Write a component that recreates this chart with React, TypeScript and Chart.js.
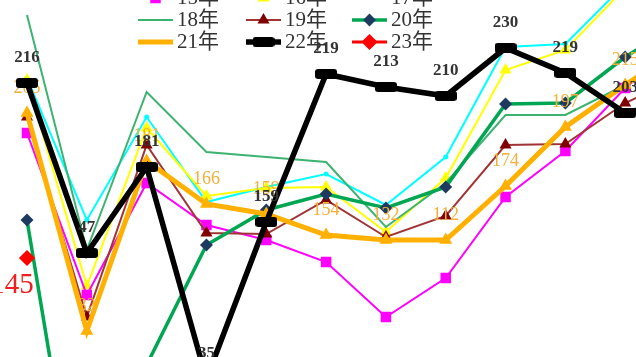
import React, { useEffect, useRef } from 'react';
import { Chart, registerables } from 'chart.js';
import { drawPoint } from 'chart.js/helpers';

Chart.register(...registerables);

// Categories (months); the 12th lies just beyond the visible right edge
const categories = ['1月', '2月', '3月', '4月', '5月', '6月', '7月', '8月', '9月', '10月', '11月', '12月'];

// Plotted index values (hidden y axis)
const s15 = [224, 62, 174, 132, 117, 95, 40, 79, 160, 206, 269, 317];
const s16 = [277, 71, 229, 161, 169, 170, 125, 179, 287, 307, 369, 417];
const s17 = [279, 137, 240, 155, 170, 183, 152, 200, 310, 313, 373, 427];
const s18 = [342, 107, 265, 205, 200, 195, 130, 174, 242, 242, 272, 302];
const s19 = [240, 40, 212, 124, 123, 157, 120, 141, 212, 213, 254, 282];
const s20 = [137, -223, -8, 112, 147, 163, 149, 170, 253, 254, 300, 337];
const s21 = [244, 26, 196, 153, 143, 122, 117, 117, 171, 230, 272, 312];
const s22 = [274, 104, 190, -22, 135, 283, 270, 261, 309, 284, 244, 258];
const s23 = [99, null, null, null, null, null, null, null, null, null, null, null];

// Data label texts
const labels21 = ['205', '32', '181', '166', '159', '154', '132', '112', '174', '197', '215', ''];
const labels22 = ['216', '47', '181', '35', '159', '219', '213', '210', '230', '219', '203', ''];
const labels23 = ['145'];

const seriesNames = ['15年', '16年', '17年', '18年', '19年', '20年', '21年', '22年', '23年'];

function makeBarMarker(w: number, h: number, color: string) {
  const c = document.createElement('canvas');
  c.width = w;
  c.height = h;
  const g = c.getContext('2d')!;
  g.fillStyle = color;
  const r = 3;
  g.beginPath();
  g.moveTo(r, 0);
  g.lineTo(w - r, 0);
  g.quadraticCurveTo(w, 0, w, r);
  g.lineTo(w, h - r);
  g.quadraticCurveTo(w, h, w - r, h);
  g.lineTo(r, h);
  g.quadraticCurveTo(0, h, 0, h - r);
  g.lineTo(0, r);
  g.quadraticCurveTo(0, 0, r, 0);
  g.fill();
  return c;
}

const labelPlugin = {
  id: 'valueLabels',
  afterDatasetDraw(chart: any, args: any) {
    const i = args.index;
    const ds = chart.data.datasets[i];
    if (!ds.valueLabels) return;
    const ctx = chart.ctx;
    const meta = chart.getDatasetMeta(i);
    const st = ds.valueLabelStyle;
    ctx.save();
    ctx.font = st.font;
    ctx.fillStyle = st.color;
    ctx.textAlign = 'center';
    ctx.textBaseline = 'middle';
    meta.data.forEach((pt: any, j: number) => {
      const t = ds.valueLabels[j];
      if (!t || ds.data[j] == null) return;
      ctx.fillText(t, pt.x + st.dx, pt.y + st.dy);
    });
    ctx.restore();
  },
};

const legendPlugin = {
  id: 'gridLegend',
  afterDatasetsDraw(chart: any) {
    const ctx = chart.ctx;
    const cols = [138, 246, 352];
    const rows = [-2, 20, 42];
    const sampleW = 35;
    chart.data.datasets.forEach((ds: any, i: number) => {
      const x0 = cols[i % 3];
      const y = rows[Math.floor(i / 3)];
      ctx.save();
      ctx.strokeStyle = ds.borderColor;
      ctx.lineWidth = ds.borderWidth;
      ctx.beginPath();
      ctx.moveTo(x0, y);
      ctx.lineTo(x0 + sampleW, y);
      ctx.stroke();
      if (ds.pointRadius > 0 && ds.legendMarker !== false) {
        ctx.fillStyle = ds.pointBackgroundColor;
        ctx.strokeStyle = ds.pointBorderColor;
        drawPoint(ctx, { pointStyle: ds.pointStyle, radius: ds.pointRadius, rotation: 0, borderWidth: 1 }, x0 + sampleW / 2, y);
      }
      ctx.fillStyle = '#333';
      ctx.font = "21px 'Liberation Serif', 'Noto Sans CJK SC', serif";
      ctx.textAlign = 'left';
      ctx.textBaseline = 'middle';
      ctx.fillText(ds.label, x0 + sampleW + 4, y);
      ctx.restore();
    });
  },
};

export default function App() {
  const ref = useRef<HTMLCanvasElement>(null);

  useEffect(() => {
    if (!ref.current) return;
    const barMarker = makeBarMarker(22, 10, '#000');
    const serif = "'Liberation Serif', serif";
    const chart = new Chart(ref.current, {
      type: 'line',
      data: {
        labels: categories,
        datasets: [
          {
            label: seriesNames[0], data: s15, borderColor: '#FF00FF', borderWidth: 2,
            pointStyle: 'rect', pointRadius: 6, pointBackgroundColor: '#FF00FF', pointBorderColor: '#FF00FF', order: 5,
          },
          {
            label: seriesNames[1], data: s16, borderColor: '#FFFF00', borderWidth: 2,
            pointStyle: 'triangle', pointRadius: 5, pointBackgroundColor: '#FFFF00', pointBorderColor: '#FFFF00', order: 6,
          },
          {
            label: seriesNames[2], data: s17, borderColor: '#00FFFF', borderWidth: 2,
            pointStyle: 'circle', pointRadius: 1.5, pointBackgroundColor: '#00FFFF', pointBorderColor: '#00FFFF', order: 7,
            legendMarker: false,
          },
          {
            label: seriesNames[3], data: s18, borderColor: '#3CB371', borderWidth: 2,
            pointStyle: 'circle', pointRadius: 0, pointBackgroundColor: '#3CB371', pointBorderColor: '#3CB371', order: 4,
          },
          {
            label: seriesNames[4], data: s19, borderColor: '#A03434', borderWidth: 2,
            pointStyle: 'triangle', pointRadius: 5, pointBackgroundColor: '#800000', pointBorderColor: '#800000', order: 3,
          },
          {
            label: seriesNames[5], data: s20, borderColor: '#00A651', borderWidth: 3.5,
            pointStyle: 'rectRot', pointRadius: 4, pointBackgroundColor: '#1F3A5F', pointBorderColor: '#1F3A5F', order: 2,
          },
          {
            label: seriesNames[6], data: s21, borderColor: '#FFB000', borderWidth: 5,
            pointStyle: 'triangle', pointRadius: 2.5, pointBackgroundColor: '#FFB000', pointBorderColor: '#FFB000', order: 1,
            legendMarker: false,
            valueLabels: labels21,
            valueLabelStyle: { font: `18px ${serif}`, color: '#F2B03A', dx: 0, dy: -25 },
          },
          {
            label: seriesNames[7], data: s22, borderColor: '#000000', borderWidth: 5.5,
            pointStyle: barMarker, pointRadius: 6, pointBackgroundColor: '#000', pointBorderColor: '#000', order: 0,
            valueLabels: labels22,
            valueLabelStyle: { font: `bold 17px ${serif}`, color: '#333', dx: 0, dy: -25 },
          },
          {
            label: seriesNames[8], data: s23, borderColor: '#FF0000', borderWidth: 3,
            pointStyle: 'rectRot', pointRadius: 6, pointBackgroundColor: '#FF0000', pointBorderColor: '#FF0000', order: 0,
            valueLabels: labels23,
            valueLabelStyle: { font: `29px ${serif}`, color: '#F02020', dx: -15, dy: 27 },
          },
        ] as any,
      },
      options: {
        animation: false,
        responsive: false,
        layout: { autoPadding: false, padding: { left: 27, right: 35, top: 0, bottom: 0 } },
        scales: {
          x: { type: 'category', display: false, offset: false },
          y: { display: false, min: 0, max: 357 },
        },
        elements: { line: { tension: 0 } },
        plugins: { legend: { display: false }, tooltip: { enabled: false } },
      },
      plugins: [labelPlugin, legendPlugin],
    } as any);
    return () => chart.destroy();
  }, []);

  return (
    <div style={{ position: 'fixed', left: 0, top: 0, width: 636, height: 357, overflow: 'hidden', background: '#fff' }}>
      <canvas ref={ref} width={720} height={357} style={{ display: 'block', width: 720, height: 357 }} />
    </div>
  );
}
